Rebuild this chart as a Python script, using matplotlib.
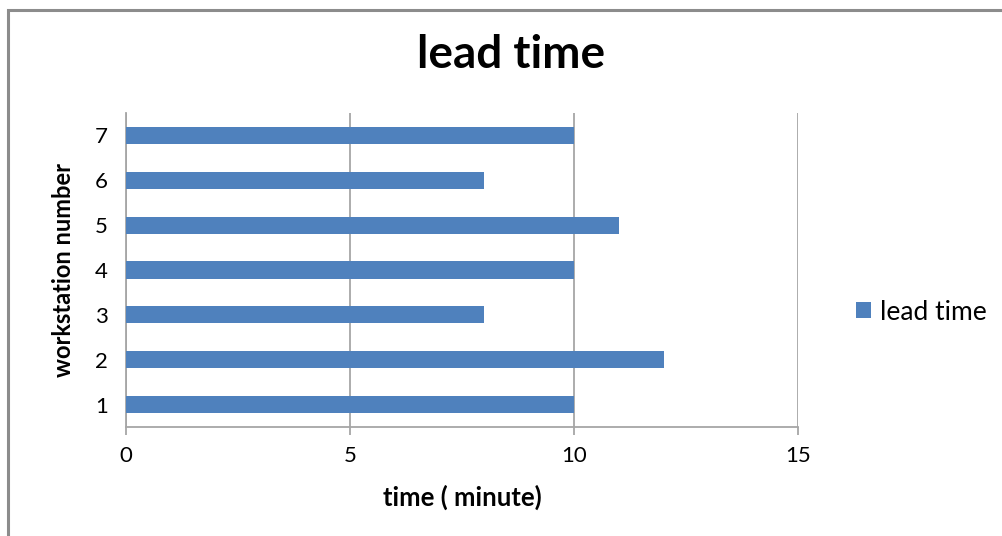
import matplotlib
matplotlib.use('Agg')
import matplotlib.pyplot as plt
from matplotlib.patches import Rectangle

# lead time per workstation, minutes
stations = ['1', '2', '3', '4', '5', '6', '7']
lead_time = [10, 12, 8, 10, 11, 8, 10]
x_ticks = [0, 5, 10, 15]

BAR = '#4F81BD'
GRID = '#A6A6A6'

plt.rcParams['font.family'] = ['Lato', 'DejaVu Sans']

W, H = 1002, 536
fig = plt.figure(figsize=(W / 100, H / 100), dpi=100)
ax = fig.add_axes([126 / W, 1 - 427 / H, 672 / W, 314 / H])

y = range(1, len(stations) + 1)
ax.barh(y, lead_time, height=0.38, color=BAR, label='lead time', zorder=3)

ax.set_xlim(0, 15)
ax.set_ylim(0.5, len(stations) + 0.5)
ax.set_xticks(x_ticks)
ax.set_xticklabels([str(t) for t in x_ticks], fontsize=16)
ax.set_yticks(list(y))
ax.set_yticklabels(stations, fontsize=16)

ax.grid(axis='x', color=GRID, linewidth=1.3, zorder=0)
for s in ('top', 'right'):
    ax.spines[s].set_visible(False)
for s in ('left', 'bottom'):
    ax.spines[s].set_color(GRID)
    ax.spines[s].set_linewidth(1.3)
ax.tick_params(axis='x', direction='out', length=6, width=1.3, color=GRID, pad=8)
ax.tick_params(axis='y', length=0, pad=13)

ax.set_xlabel('time ( minute)', fontsize=18.5, fontweight='bold', va='top')
ax.xaxis.set_label_coords(0.5, -(485 - 427) / 314)
ax.set_ylabel('workstation number', fontsize=17, fontweight='bold', va='center')
ax.yaxis.set_label_coords(-(126 - 64) / 672, 0.5)

fig.text(511 / W, 1 - 68 / H, 'lead time', fontsize=33, fontweight='bold',
         ha='center', va='baseline')

ax.legend(loc='center left', bbox_to_anchor=(856 / W, 1 - 312 / H),
          bbox_transform=fig.transFigure, frameon=False, borderaxespad=0,
          borderpad=0, fontsize=19, handlelength=0.55, handleheight=0.55,
          handletextpad=0.35)

# outer chart frame (only top and left edges fall inside the image)
fig.add_artist(Rectangle((8 / W, -0.2), 1.5, 1.2 - 10 / H,
                         transform=fig.transFigure, fill=False,
                         edgecolor='#8C8C8C', linewidth=2.2))

fig.savefig('out.png', dpi=100)
